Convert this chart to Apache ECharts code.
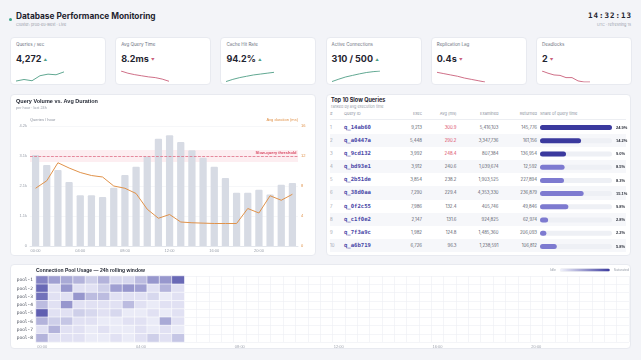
<!DOCTYPE html>
<html>
<head>
<meta charset="utf-8">
<script src="https://cdn.jsdelivr.net/npm/echarts@6/dist/echarts.min.js"></script>
<style>
  body { margin: 0; width: 641px; height: 360px; background: #f3f4f8; font-family: Inter, "Noto Sans", sans-serif; color: #1f2430; position: relative; overflow: hidden; }
  .abs { position: absolute; white-space: nowrap; }
  .panel { position: absolute; background: #fff; border: 1px solid #e8eaf0; border-radius: 4px; box-sizing: border-box; }
  .mono { font-family: "DejaVu Sans Mono", monospace; }
  .kpi-label { font-size: 4.5px; color: #6b7280; }
  .kpi-value { font-size: 9px; font-weight: 700; color: #1f2430; }
  .th { font-size: 4px; color: #8a909c; }
  .td { font-size: 4.3px; color: #5a606c; }
</style>
</head>
<body>

<div class="abs" style="left:8.5px;top:17.5px;width:3px;height:3px;border-radius:50%;background:#3aa58a"></div>
<div class="abs" style="left:16px;top:10px;font-size:8.3px;font-weight:700;line-height:12px">Database Performance Monitoring</div>
<div class="abs" style="left:16px;top:22px;font-size:3.8px;color:#9aa0ab;line-height:5px">Cluster: prod-eu-west · Live</div>
<div class="abs mono" style="right:9px;top:10px;font-size:7.5px;font-weight:700;letter-spacing:1px;line-height:11px">14:32:13</div>
<div class="abs" style="right:10px;top:22px;font-size:3.8px;color:#a0a5b0;line-height:5px">UTC · refreshing 1s</div>

<div id="cards"></div>

<div class="panel" style="left:10px;top:94px;width:306px;height:162px">
  <div id="main" style="position:absolute;left:0;top:0;width:306px;height:162px"></div>
</div>

<div class="panel" style="left:326px;top:94px;width:305px;height:162px"></div>
<div id="table"></div>
<div id="share" style="position:absolute;left:538px;top:120.7px;width:93px;height:131.5px"></div>

<div class="panel" style="left:10px;top:264px;width:621px;height:85px">
  <div id="heat" style="position:absolute;left:0;top:0;width:621px;height:85px"></div>
</div>

<script>
// KPI cards
const kpiLabels = ['Queries / sec', 'Avg Query Time', 'Cache Hit Rate', 'Active Connections', 'Replication Lag', 'Deadlocks'];
const kpiValues = ['4,272', '8.2ms', '94.2%', '310 / 500', '0.4s', '2'];
const kpiUp = [true, false, true, true, false, false];
const sparkQps = [3980, 4030, 3990, 4150, 4200, 4180, 4272];
const sparkLatency = [9.6, 9.3, 9.1, 8.95, 8.8, 8.7, 8.5, 8.2];
const sparkCache = [92.1, 92.6, 93.0, 93.3, 93.6, 93.8, 94.0, 94.2];
const sparkConn = [262, 273, 283, 290, 297, 303, 307, 310];
const sparkLag = [0.62, 0.59, 0.56, 0.53, 0.49, 0.46, 0.43, 0.4];
const sparkDeadlocks = [7, 6, 5.2, 5, 4, 4, 2.5, 2, 2];

// query volume vs duration
const hours = ['00:00', '01:00', '02:00', '03:00', '04:00', '05:00', '06:00', '07:00', '08:00', '09:00', '10:00', '11:00',
  '12:00', '13:00', '14:00', '15:00', '16:00', '17:00', '18:00', '19:00', '20:00', '21:00', '22:00', '23:00'];
const queryVolume = [3185, 2835, 2660, 2240, 1775, 1775, 1715, 2040, 2485, 2775, 3125, 3755,
  3875, 3640, 3350, 3090, 2775, 2380, 1866, 1866, 1971, 1800, 2146, 2205];
const avgDuration = [7.7, 8.7, 11.1, 10.4, 9.8, 9.4, 9.2, 8.0, 7.7, 7.0, 4.9, 3.7,
  4.2, 3.2, 3.1, 3.05, 3.0, 3.0, 3.0, 5.0, 4.4, 6.7, 6.1, 6.9];
const slowThreshold = 12;

// slow query table
const queryIds = ['q_14ab60', 'q_a0447a', 'q_9cd132', 'q_bd93e1', 'q_2b51de', 'q_38d0aa', 'q_0f2c55', 'q_c1f0e2', 'q_7f3a9c', 'q_a6b719'];
const execCounts = ['9,213', '5,448', '3,992', '3,912', '3,854', '7,290', '7,986', '2,147', '1,982', '6,726'];
const avgMs = [300.9, 290.2, 248.4, 240.6, 238.2, 229.4, 132.4, 131.6, 124.8, 96.3];
const examinedRows = ['5,416,103', '3,347,736', '807,384', '1,039,674', '1,903,525', '4,353,330', '405,746', '924,825', '1,485,360', '1,238,591'];
const returnedRows = ['145,776', '161,156', '136,954', '12,592', '227,894', '236,879', '49,846', '62,974', '206,093', '106,812'];
const sharePct = [24.9, 14.2, 9.0, 8.5, 8.3, 15.1, 9.8, 2.8, 2.2, 5.8];
const slowAvgLimit = 245;

// connection pool heatmap
const pools = ['pool-1', 'pool-2', 'pool-3', 'pool-4', 'pool-5', 'pool-6', 'pool-7', 'pool-8'];
const slots = ['00:00', '00:30', '01:00', '01:30', '02:00', '02:30', '03:00', '03:30', '04:00', '04:30', '05:00', '05:30',
  '06:00', '06:30', '07:00', '07:30', '08:00', '08:30', '09:00', '09:30', '10:00', '10:30', '11:00', '11:30',
  '12:00', '12:30', '13:00', '13:30', '14:00', '14:30', '15:00', '15:30', '16:00', '16:30', '17:00', '17:30',
  '18:00', '18:30', '19:00', '19:30', '20:00', '20:30', '21:00', '21:30', '22:00', '22:30', '23:00', '23:30'];
const poolUsage = [
  [60, 45, 40, 35, 20, 35, 15, 15, 30, 50, 50, 75],
  [75, 10, 50, 10, 10, 20, 45, 50, 45, 10, 35, 10],
  [70, 10, 10, 50, 30, 30, 10, 10, 10, 15, 5, 10],
  [30, 10, 50, 10, 10, 10, 10, 30, 10, 5, 10, 10],
  [80, 10, 10, 20, 15, 10, 15, 5, 5, 10, 5, 10],
  [35, 20, 25, 10, 10, 5, 5, 10, 10, 5, 40, 10],
  [10, 35, 10, 10, 5, 10, 5, 5, 10, 5, 10, 5],
  [35, 10, 10, 10, 5, 5, 10, 5, 10, 20, 10, 25]
];

const green = '#4f9e86';
const red = '#c9607a';
const sparks = [sparkQps, sparkLatency, sparkCache, sparkConn, sparkLag, sparkDeadlocks];

// cards + sparklines
const cardsEl = document.getElementById('cards');
kpiLabels.forEach(function (label, i) {
  const x = 10 + i * 105.2;
  const card = document.createElement('div');
  card.className = 'panel';
  card.style.cssText = 'left:' + x + 'px;top:37px;width:96px;height:48px';
  card.innerHTML =
    '<div class="abs kpi-label" style="left:5px;top:4px;line-height:6px">' + label + '</div>' +
    '<div class="abs kpi-value" style="left:5px;top:14.5px;line-height:12px">' + kpiValues[i] +
    ' <span style="font-size:3.5px;vertical-align:middle;color:' + (kpiUp[i] ? green : red) + '">' + (kpiUp[i] ? '▲' : '▼') + '</span></div>' +
    '<div class="spark" style="position:absolute;left:4px;top:31px;width:50px;height:16px"></div>';
  cardsEl.appendChild(card);
  const chart = echarts.init(card.querySelector('.spark'));
  chart.setOption({
    animation: false,
    grid: { left: 1, right: 1, top: 2, bottom: 3 },
    xAxis: { type: 'category', show: false, boundaryGap: false, data: sparks[i].map(function (v, k) { return k; }) },
    yAxis: { type: 'value', show: false, scale: true },
    series: [{
      type: 'line',
      data: sparks[i],
      symbol: 'none',
      lineStyle: { width: 0.9, color: kpiUp[i] ? green : red }
    }]
  });
});

// main combo chart
const mainChart = echarts.init(document.getElementById('main'));
mainChart.setOption({
  animation: false,
  title: {
    text: 'Query Volume vs. Avg Duration',
    subtext: 'per hour · last 24h',
    left: 5, top: 3, itemGap: 2, padding: 0,
    textStyle: { fontSize: 5.5, fontWeight: 700, color: '#1f2430' },
    subtextStyle: { fontSize: 3.8, color: '#9aa0ab' }
  },
  grid: { left: 19, right: 19, top: 31, height: 120 },
  xAxis: {
    type: 'category',
    data: hours,
    axisTick: { show: false },
    axisLine: { lineStyle: { color: '#e3e6ec' } },
    axisLabel: { interval: 3, fontSize: 4, color: '#9aa0ab', margin: 3 }
  },
  yAxis: [{
    type: 'value',
    min: 0, max: 4200, interval: 1050,
    name: 'Queries / hour',
    nameGap: 4,
    nameTextStyle: { align: 'left', fontSize: 4, color: '#8a909c' },
    axisLabel: {
      fontSize: 4, color: '#9aa0ab', margin: 3,
      formatter: function (v) { return v ? (v / 1000).toFixed(1) + 'k' : '0'; }
    },
    splitLine: { lineStyle: { color: '#f0f1f5', width: 0.6 } }
  }, {
    type: 'value',
    min: 0, max: 16, interval: 4,
    name: 'Avg duration (ms)',
    nameGap: 4,
    nameTextStyle: { align: 'right', fontSize: 4, color: '#e0924a' },
    axisLabel: { fontSize: 4, color: '#e0924a', margin: 3 },
    splitLine: { show: false }
  }],
  series: [{
    type: 'bar',
    data: queryVolume,
    barWidth: '65%',
    itemStyle: { color: '#d7dbe4', borderRadius: [1, 1, 0, 0] }
  }, {
    type: 'line',
    yAxisIndex: 1,
    data: avgDuration,
    symbol: 'none',
    lineStyle: { color: '#e0924a', width: 1 },
    markLine: {
      silent: true,
      symbol: 'none',
      data: [{ yAxis: slowThreshold }],
      lineStyle: { color: '#e0607a', type: 'dashed', width: 0.7 },
      label: { position: 'insideEndTop', formatter: 'Slow-query threshold', fontSize: 4, fontWeight: 600, color: '#d94a64', distance: 1.5 }
    },
    markArea: {
      silent: true,
      itemStyle: { color: 'rgba(240,90,120,0.10)' },
      data: [[{ yAxis: slowThreshold - 0.8 }, { yAxis: slowThreshold + 0.8 }]]
    }
  }]
});

// slow query table (text)
const tableEl = document.getElementById('table');
const rowTop = 120.7, rowH = 13.15;
let html = '<div class="abs" style="left:331px;top:97px;font-size:5.5px;font-weight:700;line-height:7px">Top 10 Slow Queries</div>' +
  '<div class="abs" style="left:331px;top:104px;font-size:3.8px;color:#9aa0ab;line-height:5px">ranked by avg execution time</div>';
function cell(txt, left, right, cls, extra, top, h) {
  const pos = right != null ? 'right:' + (641 - right) + 'px;' : 'left:' + left + 'px;';
  return '<div class="abs ' + cls + '" style="' + pos + 'top:' + top + 'px;line-height:' + h + 'px;' + (extra || '') + '">' + txt + '</div>';
}
const hTop = 110.5, hH = 6;
html += '<div class="abs" style="left:330px;width:296px;top:119px;height:0.6px;background:#eceef2"></div>';
html += cell('#', 330, null, 'th', '', hTop, hH);
html += cell('Query ID', 344, null, 'th', '', hTop, hH);
html += cell('Exec', null, 422, 'th', '', hTop, hH);
html += cell('Avg (ms)', null, 456.5, 'th', '', hTop, hH);
html += cell('Examined', null, 498.5, 'th', '', hTop, hH);
html += cell('Returned', null, 537, 'th', '', hTop, hH);
html += cell('Share of query time', 540, null, 'th', '', hTop, hH);
queryIds.forEach(function (id, i) {
  const t = rowTop + i * rowH;
  if (i % 2 === 1) html += '<div class="abs" style="left:330px;width:296px;top:' + t + 'px;height:' + rowH + 'px;background:#f6f7fa"></div>';
  html += cell(String(i + 1), 330, null, 'td', 'color:#a0a5b0', t, rowH);
  html += cell(id, 344, null, 'mono', 'font-size:5.6px;font-weight:700;color:#4745a6', t, rowH);
  html += cell(execCounts[i], null, 422, 'td', '', t, rowH);
  html += cell(avgMs[i].toFixed(1), null, 456.5, 'td', avgMs[i] > slowAvgLimit ? 'color:#d9485f' : '', t, rowH);
  html += cell(examinedRows[i], null, 498.5, 'td', '', t, rowH);
  html += cell(returnedRows[i], null, 537, 'td', '', t, rowH);
});
tableEl.innerHTML = html;

// share bars
const shareChart = echarts.init(document.getElementById('share'));
shareChart.setOption({
  animation: false,
  grid: { left: 2, right: 19, top: 0, bottom: 0 },
  xAxis: { type: 'value', show: false, min: 0, max: 'dataMax' },
  yAxis: {
    type: 'category',
    data: queryIds,
    inverse: true,
    position: 'right',
    axisLine: { show: false },
    axisTick: { show: false },
    axisLabel: {
      margin: 4, fontSize: 4, fontWeight: 700, color: '#2b2f3a', align: 'left',
      formatter: function (v, i) { return sharePct[i].toFixed(1) + '%'; }
    }
  },
  series: [{
    type: 'bar',
    barWidth: 5,
    showBackground: true,
    backgroundStyle: { color: '#eef0f5', borderRadius: 2.5 },
    data: sharePct.map(function (v, i) {
      return { value: v, itemStyle: { color: avgMs[i] > slowAvgLimit ? '#3b3a9e' : '#7d7ad0' } };
    }),
    itemStyle: { borderRadius: 2.5 }
  }]
});

// heatmap
const heatData = [];
poolUsage.forEach(function (row, r) {
  row.forEach(function (v, c) { heatData.push([c, r, v]); });
});
const heatChart = echarts.init(document.getElementById('heat'));
heatChart.setOption({
  animation: false,
  title: {
    text: 'Connection Pool Usage — 24h rolling window',
    left: 25, top: 3, padding: 0,
    textStyle: { fontSize: 5, fontWeight: 700, color: '#1f2430' }
  },
  grid: { left: 25, right: 3, top: 11, height: 66 },
  xAxis: {
    type: 'category',
    data: slots,
    axisTick: { show: false },
    axisLine: { show: false },
    axisLabel: { interval: 7, fontSize: 4, color: '#a0a5b0', margin: 3 },
    splitLine: { show: true, interval: 0, lineStyle: { color: '#eceef3', width: 0.6 } }
  },
  yAxis: {
    type: 'category',
    data: pools,
    inverse: true,
    axisTick: { show: false },
    axisLine: { show: false },
    axisLabel: { fontSize: 4.5, fontFamily: 'DejaVu Sans Mono', color: '#4a4f5c', margin: 3 },
    splitLine: { show: true, interval: 0, lineStyle: { color: '#eceef3', width: 0.6 } }
  },
  visualMap: {
    min: 0, max: 100,
    calculable: false,
    orient: 'horizontal',
    right: 3, top: 3, padding: 0,
    itemWidth: 3, itemHeight: 50,
    text: ['Saturated', 'Idle'],
    textGap: 4,
    textStyle: { fontSize: 3.5, color: '#9aa0ab' },
    inRange: { color: ['#f3f4fc', '#3b3a9e'] }
  },
  series: [{
    type: 'heatmap',
    data: heatData,
    itemStyle: { borderColor: '#fff', borderWidth: 0.6 }
  }]
});
</script>
</body>
</html>
